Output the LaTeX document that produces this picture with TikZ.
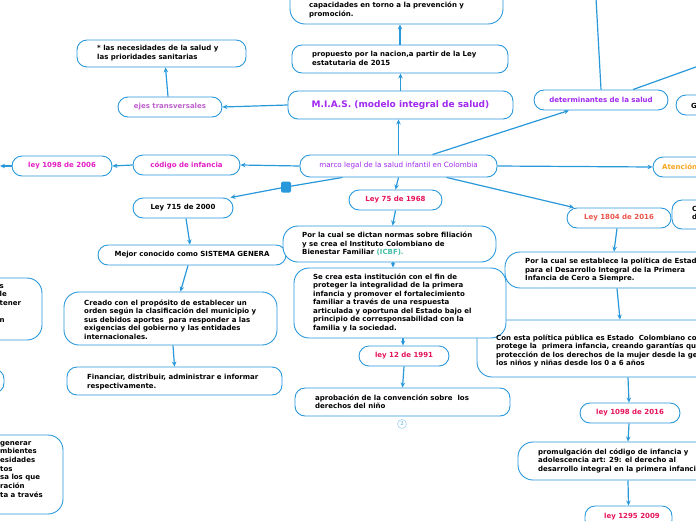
\documentclass[tikz,border=0pt]{standalone}
\usepackage{fontspec}
\setmainfont{DejaVu Sans}
\usetikzlibrary{arrows.meta,backgrounds}
\definecolor{ln}{RGB}{41,152,219}
\definecolor{purp}{RGB}{160,40,240}
\definecolor{orch}{RGB}{190,95,205}
\definecolor{mag}{RGB}{228,30,195}
\definecolor{crim}{RGB}{230,20,90}
\definecolor{coral}{RGB}{235,85,75}
\definecolor{orng}{RGB}{248,165,30}
\definecolor{teal}{RGB}{70,190,165}
\tikzset{
  box/.style={draw=ln, line width=0.9pt, fill=white, rounded corners=10pt, inner sep=0pt,
    font=\fontsize{7}{8.5}\selectfont\bfseries},
  bigbox/.style={box, rounded corners=15pt},
  txt/.style={anchor=north west, align=left, inner sep=0pt,
    font=\fontsize{7}{8.5}\selectfont\bfseries, text=black,
    execute at begin node={\rule{0pt}{6pt}}},
  arr/.style={draw=ln, line width=1.2pt, -{Stealth[length=5pt,width=4.5pt]}},
  con/.style={draw=ln, line width=1.2pt},
}
\begin{document}
\begin{tikzpicture}[x=1pt,y=-1pt]
\useasboundingbox (0,0) rectangle (696,520);
% boxes
\node[bigbox, minimum width=213pt, minimum height=54pt] (topbox) at (396.5,-3) {};
\node[box, minimum width=216pt, minimum height=28pt] (prop) at (400,59) {};
\node[box, minimum width=225pt, minimum height=28pt, text=purp, font=\fontsize{9}{10}\selectfont\bfseries] (mias) at (400.5,105) {M.I.A.S. (modelo integral de salud)};
\node[box, minimum width=169pt, minimum height=27pt] (nec) at (161.5,53.5) {};
\node[box, minimum width=104pt, minimum height=20pt, text=orch] (ejes) at (170,107) {ejes transversales};
\node[box, minimum width=197pt, minimum height=22pt, text=purp, font=\fontsize{7.2}{8}\selectfont] (central) at (398.5,166) {marco legal de la salud infantil en Colombia};
\node[box, minimum width=107pt, minimum height=20pt, text=mag] (cod) at (186.5,165) {código de infancia};
\node[box, minimum width=100pt, minimum height=20pt, text=mag] (lA) at (62,166) {ley 1098 de 2006};
\coordinate (lft) at (0,166);
\node[fill=ln, rounded corners=1.5pt, minimum width=10pt, minimum height=11pt, inner sep=0pt] (sq) at (286,187) {};
\node[box, minimum width=100pt, minimum height=20pt] (l715) at (183,208) {Ley 715 de 2000};
\node[box, minimum width=188pt, minimum height=20pt] (mejor) at (192,255) {Mejor conocido como SISTEMA GENERA};
\node[bigbox, minimum width=213pt, minimum height=53pt] (creado) at (170.5,318.5) {};
\node[box, minimum width=215pt, minimum height=28pt] (fin) at (174.5,381) {};
\node[box, minimum width=93pt, minimum height=20pt, text=crim] (l75) at (395.5,200) {Ley 75 de 1968};
\node[bigbox, minimum width=213pt, minimum height=36pt] (porla) at (389.5,244) {};
\node[bigbox, minimum width=288pt, minimum height=57pt] (conesta) at (621,348.5) {};
\node[bigbox, minimum width=212pt, minimum height=70pt] (secrea) at (400,303) {};
\node[box, minimum width=90pt, minimum height=20pt, text=crim] (l12) at (404,356) {ley 12 de 1991};
\node[box, minimum width=215pt, minimum height=28pt] (aprob) at (402.5,402) {};
\node[circle, draw=ln!45, line width=0.6pt, minimum size=9pt, inner sep=0pt, text=ln!55, font=\fontsize{5}{5}\selectfont\bfseries] (two) at (402,424) {2};
\node[box, minimum width=134pt, minimum height=20pt, text=purp] (det) at (601,100) {determinantes de la salud};
\coordinate (dtop) at (596,-2);
\coordinate (dright) at (700,65.5);
\node[box, minimum width=64pt, minimum height=20pt] (gbox) at (708,105) {};
\node[box, minimum width=87pt, minimum height=20pt] (aten) at (696.5,167) {};
\node[box, minimum width=104pt, minimum height=20pt, text=coral] (l1804) at (619,218) {Ley 1804 de 2016};
\node[box, minimum width=68pt, minimum height=29pt] (cdbox) at (706,214.5) {};
\node[bigbox, minimum width=220pt, minimum height=36pt] (porlaB) at (615,270) {};
\node[box, minimum width=100pt, minimum height=20pt, text=crim] (lB) at (630,413) {ley 1098 de 2016};
\node[bigbox, minimum width=220pt, minimum height=38pt] (prom) at (628,461) {};
\node[box, minimum width=87pt, minimum height=24pt, text=crim] (l1295) at (628.5,518) {};
\node[bigbox, minimum width=142pt, minimum height=62pt] (left1) at (-29,309) {};
\node[box, minimum width=104pt, minimum height=24pt] (left2) at (-48,381) {};
\node[bigbox, minimum width=163pt, minimum height=79pt] (left3) at (-18.5,474.5) {};
% texts
\node[txt] (ttop) at (309,2) {capacidades en torno a la prevención y\\promoción.};
\node[txt] (tprop) at (312,51) {propuesto por la nacion,a partir de la Ley\\estatutaria de 2015};
\node[txt] (tnec) at (97,45.3) {* las necesidades de la salud y\\las prioridades sanitarias};
\node[txt] (tcreado) at (84,299.3) {Creado con el propósito de establecer un\\orden según la clasificación del municipio y\\sus debidos aportes\ \ para responder a las\\exigencias del gobierno y las entidades\\internacionales.};
\node[txt] (tfin) at (87,374.3) {Financiar, distribuir, administrar e informar\\respectivamente.};
\node[txt] (tporla) at (302,231.7) {Por la cual se dictan normas sobre filiación\\y se crea el Instituto Colombiano de\\Bienestar Familiar {\color{teal}(ICBF).}};
\node[txt] (tsecrea) at (313,273.3) {Se crea esta institución con el fin de\\proteger la integralidad de la primera\\infancia y promover el fortalecimiento\\familiar a través de una respuesta\\articulada y oportuna del Estado bajo el\\principio de corresponsabilidad con la\\familia y la sociedad.};
\node[txt] (taprob) at (315,394.3) {aprobación de la convención sobre\ \ los\\derechos del niño};
\node[txt] (tporlaB) at (525,257.7) {Por la cual se establece la política de Estado\\para el Desarrollo Integral de la Primera\\Infancia de Cero a Siempre.};
\node[txt] (tconesta) at (496,334.3) {Con esta política pública es Estado\ \ Colombiano con\\protege la\ \ primera infancia, creando garantías que\\protección de los derechos de la mujer desde la gestación\\los niños y niñas desde los 0 a 6 años};
\node[txt] (tprom) at (538,448.3) {promulgación del código de infancia y\\adolescencia art: 29: el derecho al\\desarrollo integral en la primera infancia};
\node[txt, text=crim] (tl1295) at (604,512.7) {ley 1295 2009};
\node[txt] (tg) at (691,102) {G};
\node[txt, text=orng] (taten) at (662,163) {Atención};
\node[txt] (tcd) at (692,206) {C\\d};
\node[txt] (tleft1) at (-0.5,284.3) {s\\le\\tener\\\mbox{}\\n};
\node[txt, font=\fontsize{7}{8.65}\selectfont\bfseries] (tleft3) at (0,441) {generar\\mbientes\\esidades\\tos\\sa los que\\ración\\ta a través};
% connectors
\begin{scope}[on background layer]
\draw[arr] (prop.north) -- (prop.north |- topbox.south);
\draw[arr] (mias.north) -- (mias.north |- prop.south);
\draw[arr] (central.north) -- (central.north |- mias.south);
\draw[arr] (mias.west) -- (ejes.east);
\draw[arr] ([xshift=-2pt]ejes.north) -- ([xshift=4pt]nec.south);
\draw[arr] (central.west) -- (cod.east);
\draw[arr] (cod.west) -- (lA.east);
\draw[arr] (lA.west) -- (lft);
\draw[con] ([xshift=-56pt]central.south) -- (sq.center);
\draw[arr] (sq.center) -- ([xshift=-3pt]l715.north east);
\draw[arr] ([xshift=3pt]l715.south) -- ([xshift=-2pt]mejor.north);
\draw[arr] ([xshift=-4pt]mejor.south) -- ([xshift=10pt]creado.north);
\draw[arr] ([xshift=2.5pt]creado.south) -- (fin.north);
\draw[arr] (central.south) -- (l75.north);
\draw[arr] (l75.south) -- ([xshift=3pt]porla.north);
\draw[arr] ([xshift=3.5pt]porla.south) -- ([xshift=-7pt]secrea.north);
\draw[arr] ([xshift=3pt]secrea.south) -- ([xshift=-1pt]l12.north);
\draw[arr] (l12.south) -- (aprob.north);
\draw[arr] ([xshift=34pt]central.north) -- ([xshift=-32pt]det.south);
\draw[con] (det.north) -- (dtop);
\draw[con] ([xshift=32pt]det.north) -- (dright);
\draw[arr] (central.east) -- (aten.west);
\draw[arr] ([xshift=48pt]central.south) -- ([xshift=-45pt]l1804.north);
\draw[arr] ([xshift=-2pt]l1804.south) -- ([xshift=-1pt]porlaB.north);
\draw[arr] ([xshift=2pt]porlaB.south) -- ([xshift=-1pt]conesta.north);
\draw[arr] ([xshift=7pt]conesta.south) -- ([xshift=-1pt]lB.north);
\draw[arr] ([xshift=-1pt]lB.south) -- (prom.north);
\draw[arr] (prom.south) -- (l1295.north);
\end{scope}
\end{tikzpicture}
\end{document}
